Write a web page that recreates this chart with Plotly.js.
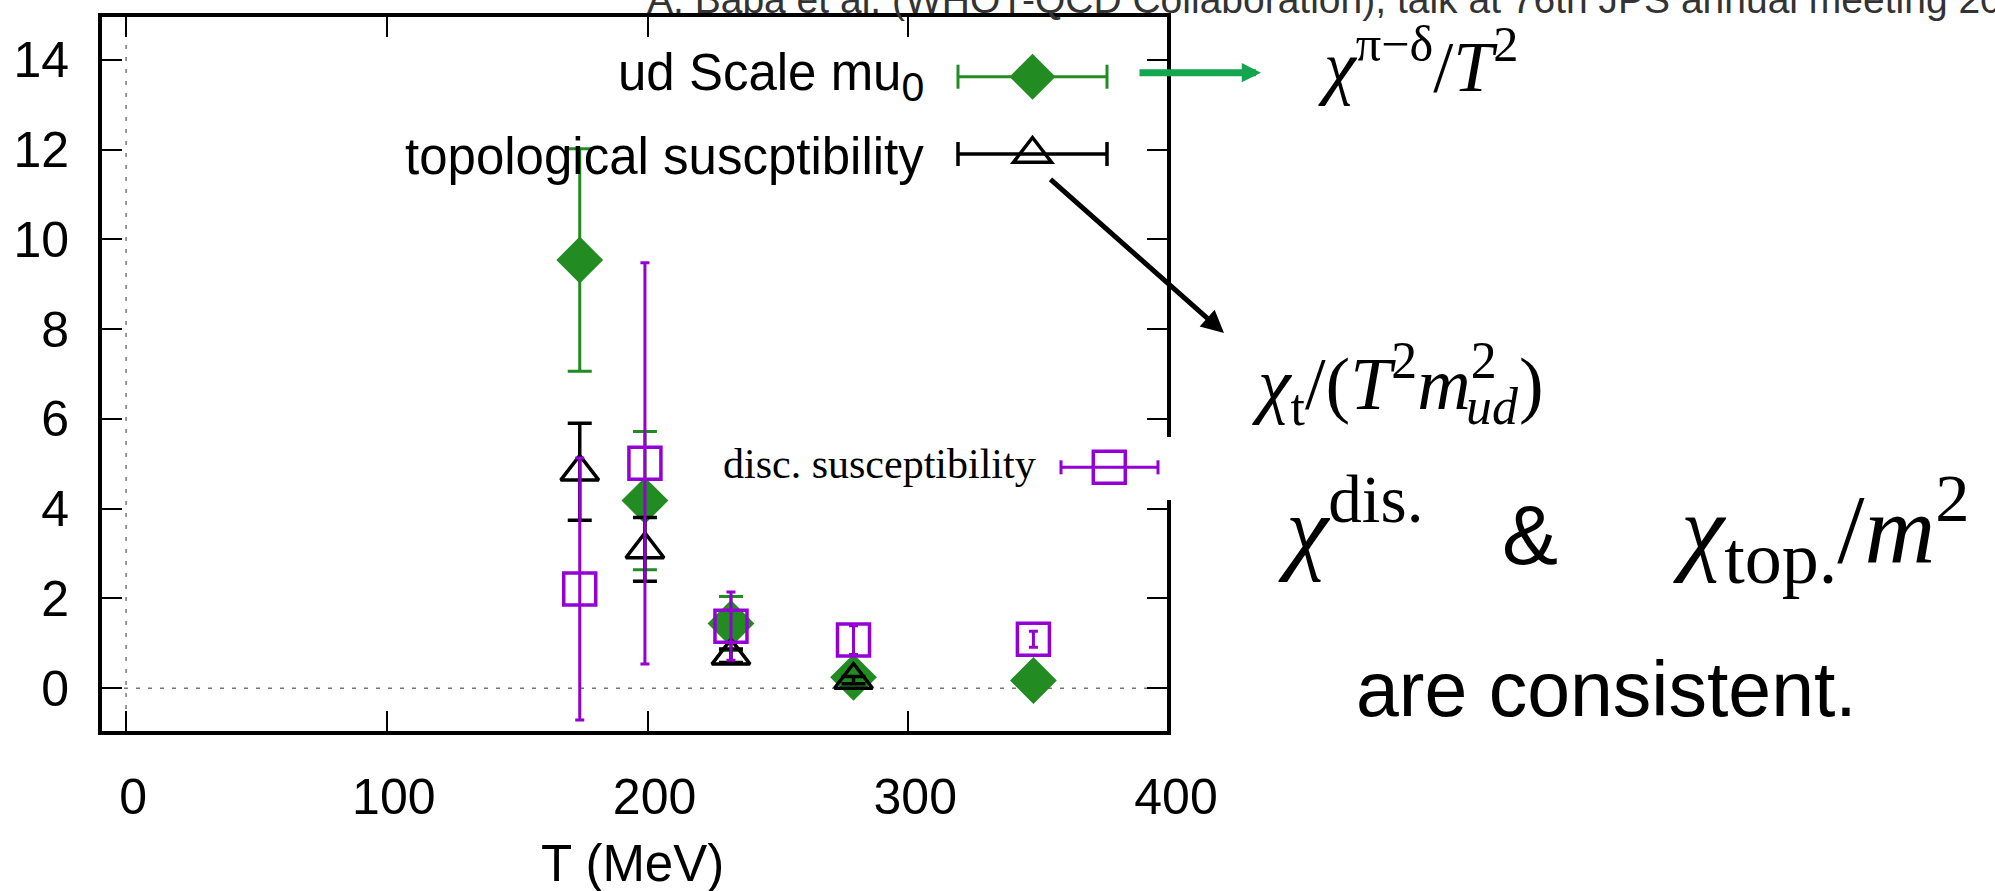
<!DOCTYPE html>
<html>
<head>
<meta charset="utf-8">
<script src="https://cdn.plot.ly/plotly-3.0.1.min.js"></script>
<style>
  html, body { margin: 0; padding: 0; background: #ffffff; }
  #chart { width: 1995px; height: 891px; }
</style>
</head>
<body>
<div id="chart"></div>
<script>
// Temperatures of the ensembles (MeV)
const temperatures = [174, 199, 232, 279, 348];

// ud Scale mu0  (chi^{pi-delta}/T^2)
const udScaleValues = [9.54, 4.18, 1.44, 0.24, 0.17];
const udScaleErrors = [2.48, 1.54, 0.60, 0.10, 0.06];

// topological susceptibility (no point at the highest temperature)
const topoTemperatures = [174, 199, 232, 279];
const topoValues = [4.82, 3.09, 0.72, 0.18];
const topoErrors = [1.08, 0.71, 0.15, 0.08];

// disconnected susceptibility
const discValues = [2.21, 5.01, 1.38, 1.07, 1.09];
const discErrors = [2.92, 4.47, 0.76, 0.32, 0.18];

// axis ticks
const xTickValues = [0, 100, 200, 300, 400];
const yTickValues = [0, 2, 4, 6, 8, 10, 12, 14];

// colours
const GREEN = '#228b22';
const VIOLET = '#9400d3';
const BLACK = '#000000';
const ARROW_GREEN = '#13a64f';

// plot box in page pixels
const PL = 100, PT = 15, PW = 1069, PH = 718;
const W = 1995, H = 891;
const px = v => (v - PL) / PW;
const py = v => (PT + PH - v) / PH;

const SANS = 'Liberation Sans, Arial, Helvetica, sans-serif';
const SERIF = 'Liberation Serif, Times New Roman, serif';

// width of a run of text, used to stack a sub- and superscript
const measureCtx = document.createElement('canvas').getContext('2d');
function textWidth(str, size, italic) {
  measureCtx.font = (italic ? 'italic ' : '') + size + 'px "Liberation Serif"';
  return measureCtx.measureText(str).width;
}

// text placed by its baseline (page pixels)
function label(text, x, baseline, size, opts) {
  opts = opts || {};
  const asc = (opts.serif ? 0.891 : 0.905) + (opts.sup ? 0.15 : 0);
  return {
    text: text, xref: 'paper', yref: 'paper',
    x: px(x), y: py(baseline - asc * size),
    xanchor: opts.anchor || 'left', yanchor: 'top',
    showarrow: false, borderpad: 0,
    font: { family: opts.serif ? SERIF : SANS, size: size, color: opts.color || '#000' }
  };
}

function arrow(tipX, tipY, tailX, tailY, color, width, headSize) {
  return {
    text: ' ', font: { size: 1 }, xref: 'paper', yref: 'paper',
    x: px(tipX), y: py(tipY), axref: 'pixel', ayref: 'pixel',
    ax: tailX - tipX, ay: tailY - tipY,
    showarrow: true, arrowhead: 2, arrowsize: headSize, arrowwidth: width,
    arrowcolor: color, standoff: 0, startstandoff: 0
  };
}

// key sample: horizontal bar with end caps
function keyBar(x0, x1, y, capHalf, color, width) {
  const ln = (a, b, c, d) => ({
    type: 'line', xref: 'paper', yref: 'paper',
    x0: px(a), x1: px(b), y0: py(c), y1: py(d),
    line: { color: color, width: width }, layer: 'above'
  });
  return [ln(x0, x1, y, y), ln(x0, x0, y - capHalf, y + capHalf), ln(x1, x1, y - capHalf, y + capHalf)];
}

function keySymbol(cx, cy, path, stroke, fill, width) {
  return {
    type: 'path', xref: 'paper', yref: 'paper',
    xsizemode: 'pixel', ysizemode: 'pixel',
    xanchor: px(cx), yanchor: py(cy), path: path,
    fillcolor: fill, line: { color: stroke, width: width }, layer: 'above'
  };
}

const traces = [
  {
    type: 'scatter', mode: 'markers', name: 'ud Scale mu0',
    x: temperatures, y: udScaleValues,
    error_y: { type: 'data', array: udScaleErrors, visible: true, color: GREEN, thickness: 3, width: 12 },
    marker: { symbol: 'diamond', size: 36, color: GREEN, line: { width: 0 } }
  },
  {
    type: 'scatter', mode: 'markers', name: 'topological suscptibility',
    x: topoTemperatures, y: topoValues,
    error_y: { type: 'data', array: topoErrors, visible: true, color: BLACK, thickness: 3.5, width: 12 },
    marker: { symbol: 'triangle-up-open', size: 33, color: BLACK, line: { width: 3.5, color: BLACK } }
  },
  {
    type: 'scatter', mode: 'markers', name: 'disc. susceptibility',
    x: temperatures, y: discValues,
    error_y: { type: 'data', array: discErrors, visible: true, color: VIOLET, thickness: 3, width: 4.5 },
    marker: { symbol: 'square-open', size: 32, color: VIOLET, line: { width: 3.5, color: VIOLET } }
  }
];

const shapes = [
  // dotted zero axes
  { type: 'line', xref: 'x', yref: 'paper', x0: 0, x1: 0, y0: 0, y1: 1,
    line: { color: '#777', width: 1.5, dash: '4px,8px' }, layer: 'below' },
  { type: 'line', xref: 'paper', yref: 'y', x0: 0, x1: 1, y0: 0, y1: 0,
    line: { color: '#777', width: 1.5, dash: '4px,8px' }, layer: 'below' },
  // plot border
  { type: 'rect', xref: 'paper', yref: 'paper', x0: 0, x1: 1, y0: 0, y1: 1,
    line: { color: BLACK, width: 4 }, layer: 'above' },
  // white backing of the disc. susceptibility key
  { type: 'rect', xref: 'paper', yref: 'paper', x0: px(700), x1: px(1180), y0: py(500), y1: py(437),
    fillcolor: '#ffffff', line: { width: 0 }, layer: 'above' }
]
  .concat(keyBar(958, 1107, 76.7, 12, GREEN, 3))
  .concat([keySymbol(1032.5, 76.7, 'M0,23L23,0L0,-23L-23,0Z', GREEN, GREEN, 0)])
  .concat(keyBar(958, 1107, 154, 12, BLACK, 3.5))
  .concat([keySymbol(1032.5, 154, 'M-19,-8.25L19,-8.25L0,16.5Z', BLACK, 'rgba(0,0,0,0)', 3.5)])
  .concat(keyBar(1061, 1158, 467.3, 7, VIOLET, 3))
  .concat([keySymbol(1109.3, 467.3, 'M-16,-16L16,-16L16,16L-16,16Z', VIOLET, 'rgba(0,0,0,0)', 3.5)]);

// chi_t/(T^2 m^2_ud): the subscript "ud" is stacked under the exponent of m
const ctSize = 74, ctScript = 0.7 * ctSize, ctLeft = 1251, ctBase = 408;
const ctHead = textWidth('χ', ctSize, true) + textWidth('t', ctScript, false) +
  textWidth('/(', ctSize, false) + textWidth('T', ctSize, true) +
  textWidth('2', ctScript, false) + textWidth('m', ctSize, true);
const ctScriptW = Math.max(textWidth('2', ctScript, false), textWidth('ud', ctScript, true));

const annotations = [
  label('A. Baba et al. (WHOT-QCD Collaboration), talk at 76th JPS annual meeting 2021', 646, 12, 39, { color: '#333' }),
  label('ud Scale mu<sub><span style="font-size:41px">0</span></sub>', 925, 89.3, 51, { anchor: 'right' }),
  label('topological suscptibility', 925, 172.7, 51, { anchor: 'right' }),
  label('disc. susceptibility', 1037, 477, 42, { anchor: 'right', serif: true }),
  label('T (MeV)', 632.5, 880, 51, { anchor: 'center' }),
  label('<i>χ</i><sup>π−δ</sup>/<i>T</i><sup>2</sup>', 1317, 90, 72, { serif: true, sup: true }),
  label('<i>χ</i><sub>t</sub>/(<i>T</i><sup>2</sup><i>m</i><sup>2</sup>', ctLeft, ctBase, ctSize, { serif: true, sup: true }),
  label('<i>ud</i>', ctLeft + ctHead + 1, ctBase + 0.21 * ctSize, ctScript, { serif: true }),
  label(')', ctLeft + ctHead + ctScriptW + 3, ctBase, ctSize, { serif: true }),
  label('<i>χ</i><sup>dis.</sup>', 1277, 561, 96, { serif: true, sup: true }),
  label('&', 1501, 563, 84),
  label('<i>χ</i><sub><span style="font-size:74px">top.</span></sub>/<i>m</i><sup>2</sup>', 1672, 561, 98, { serif: true, sup: true }),
  label('are consistent.', 1355, 715, 77),
  arrow(1261, 72.7, 1138, 72.7, ARROW_GREEN, 7, 0.55),
  arrow(1224, 333, 1049, 178, BLACK, 5, 0.9)
];

const axisCommon = {
  showgrid: false, zeroline: false, showline: false,
  ticks: 'inside', ticklen: 22, tickwidth: 2, tickcolor: BLACK,
  mirror: 'ticks',
  tickfont: { family: SANS, size: 50, color: BLACK }
};

const layout = {
  width: W, height: H,
  margin: { l: PL, r: W - PL - PW, t: PT, b: H - PT - PH, pad: 0 },
  paper_bgcolor: '#ffffff', plot_bgcolor: '#ffffff',
  showlegend: false, hovermode: false,
  xaxis: Object.assign({}, axisCommon, {
    range: [-10, 400], tickvals: xTickValues, ticktext: xTickValues.map(String),
    ticklabelstandoff: 30, ticklabelshift: 7
  }),
  yaxis: Object.assign({}, axisCommon, {
    range: [-1, 15], tickvals: yTickValues, ticktext: yTickValues.map(String),
    ticklabelstandoff: 30
  }),
  shapes: shapes,
  annotations: annotations
};

Plotly.newPlot('chart', traces, layout, { staticPlot: true, displayModeBar: false });
</script>
</body>
</html>
